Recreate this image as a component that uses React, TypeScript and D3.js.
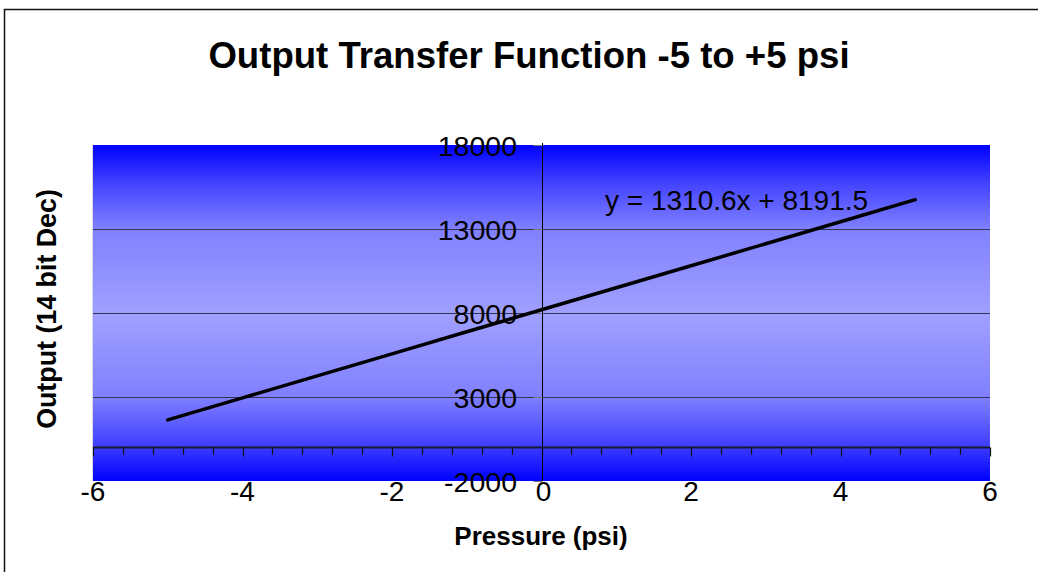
import React, { useEffect, useRef } from 'react';
import * as d3 from 'd3';

// pressure (psi) vs 14-bit output
const pressure = [-5, -4, -3, -2, -1, 0, 1, 2, 3, 4, 5];
const output = [1638, 2949, 4260, 5570, 6881, 8192, 9502, 10813, 12123, 13434, 14745];

const xTicks = [-6, -4, -2, 0, 2, 4, 6];
const yTicks = [-2000, 3000, 8000, 13000, 18000];

const title = 'Output Transfer Function -5 to +5 psi';
const xTitle = 'Pressure (psi)';
const yTitle = 'Output (14 bit Dec)';
const equation = 'y = 1310.6x + 8191.5';

const FONT = '"Liberation Sans", Arial, Helvetica, sans-serif';

export default function App() {
  const svgRef = useRef<SVGSVGElement>(null);

  useEffect(() => {
    if (!svgRef.current) return;
    const svg = d3.select(svgRef.current);
    svg.selectAll('*').remove();

    const plot = { left: 93, right: 990, top: 145, bottom: 481 };

    const x = d3.scaleLinear().domain([-6, 6]).range([plot.left, plot.right]);
    const y = d3.scaleLinear().domain([-2000, 18000]).range([plot.bottom, plot.top]);

    // gradient: blue at edges, light lavender in middle
    const defs = svg.append('defs');
    const grad = defs.append('linearGradient')
      .attr('id', 'plotBg')
      .attr('x1', 0).attr('y1', 0).attr('x2', 0).attr('y2', 1);
    [
      [0, '#0000ff'], [0.12, '#4646ff'], [0.25, '#8080ff'], [0.5, '#a0a0ff'],
      [0.75, '#8080ff'], [0.88, '#4646ff'], [1, '#0000ff']
    ].forEach(([o, c]) => grad.append('stop').attr('offset', o as number).attr('stop-color', c as string));

    // chart area border
    svg.append('rect')
      .attr('x', 4.5).attr('y', 9.5)
      .attr('width', 1100).attr('height', 700)
      .attr('fill', '#fff')
      .attr('stroke', '#111')
      .attr('stroke-width', 1.5);

    svg.append('rect')
      .attr('x', plot.left).attr('y', plot.top)
      .attr('width', plot.right - plot.left)
      .attr('height', plot.bottom - plot.top)
      .attr('fill', 'url(#plotBg)');

    svg.append('line')
      .attr('x1', plot.left - 0.5).attr('x2', plot.left - 0.5)
      .attr('y1', plot.top).attr('y2', plot.bottom)
      .attr('stroke', '#d8d8e8');

    // gridlines
    svg.append('g')
      .selectAll('line')
      .data(yTicks.filter(v => v > -2000 && v < 18000))
      .join('line')
      .attr('x1', plot.left).attr('x2', plot.right)
      .attr('y1', d => Math.round(y(d)) + 0.5)
      .attr('y2', d => Math.round(y(d)) + 0.5)
      .attr('stroke', '#333355')
      .attr('stroke-width', 1);

    // x axis at y = 0
    const y0 = Math.round(y(0)) + 0.5;
    const xAxis = svg.append('g');
    xAxis.append('line')
      .attr('x1', plot.left).attr('x2', plot.right)
      .attr('y1', y0).attr('y2', y0)
      .attr('stroke', '#1a1a2a')
      .attr('stroke-width', 1.8);
    const minor = d3.range(0, 31).map(i => -6 + i * 0.4);
    xAxis.selectAll('line.tick')
      .data(minor)
      .join('line')
      .attr('class', 'tick')
      .attr('x1', d => Math.round(x(d)) + 0.5)
      .attr('x2', d => Math.round(x(d)) + 0.5)
      .attr('y1', y0)
      .attr('y2', d => y0 + (Math.abs(d / 2 - Math.round(d / 2)) < 1e-6 ? 9 : 7))
      .attr('stroke', '#111')
      .attr('stroke-width', 1.2);
    xAxis.selectAll('text')
      .data(xTicks)
      .join('text')
      .attr('x', d => x(d) + (d === 0 ? 2 : 0))
      .attr('y', 501)
      .attr('text-anchor', 'middle')
      .attr('font-family', FONT)
      .attr('font-size', 28)
      .attr('fill', '#000')
      .text(d => d);

    // y axis at x = 0
    const x0 = Math.round(x(0)) + 0.5;
    const yAxis = svg.append('g');
    yAxis.append('line')
      .attr('x1', x0).attr('x2', x0)
      .attr('y1', plot.top - 2).attr('y2', plot.bottom)
      .attr('stroke', '#000')
      .attr('stroke-width', 1);
    yAxis.selectAll('line.tick')
      .data(yTicks)
      .join('line')
      .attr('class', 'tick')
      .attr('x1', x0 - 9).attr('x2', x0)
      .attr('y1', d => Math.round(y(d)) + 0.5)
      .attr('y2', d => Math.round(y(d)) + 0.5)
      .attr('stroke', '#777');
    yAxis.selectAll('text')
      .data(yTicks)
      .join('text')
      .attr('x', 517)
      .attr('y', d => y(d) + 1)
      .attr('dy', '0.36em')
      .attr('text-anchor', 'end')
      .attr('font-family', FONT)
      .attr('font-size', 28.5)
      .attr('fill', '#000')
      .text(d => d);

    // trend line
    const line = d3.line<number>()
      .x((_, i) => x(pressure[i]))
      .y(d => y(d));
    svg.append('path')
      .datum(output)
      .attr('d', line)
      .attr('fill', 'none')
      .attr('stroke', '#000')
      .attr('stroke-width', 3.5)
      .attr('stroke-linecap', 'round');

    svg.append('text')
      .attr('x', 605).attr('y', 210)
      .attr('font-family', FONT)
      .attr('font-size', 28)
      .attr('fill', '#000')
      .text(equation);

    // titles
    svg.append('text')
      .attr('x', 529).attr('y', 68)
      .attr('text-anchor', 'middle')
      .attr('font-family', FONT)
      .attr('font-weight', 'bold')
      .attr('font-size', 36.6)
      .attr('fill', '#000')
      .text(title);

    svg.append('text')
      .attr('x', 541).attr('y', 545)
      .attr('text-anchor', 'middle')
      .attr('font-family', FONT)
      .attr('font-weight', 'bold')
      .attr('font-size', 26)
      .attr('fill', '#000')
      .text(xTitle);

    svg.append('text')
      .attr('transform', 'translate(56,309) rotate(-90)')
      .attr('text-anchor', 'middle')
      .attr('font-family', FONT)
      .attr('font-weight', 'bold')
      .attr('font-size', 26.8)
      .attr('fill', '#000')
      .text(yTitle);
  }, []);

  return (
    <svg
      ref={svgRef}
      width={1038}
      height={572}
      style={{ position: 'absolute', left: 0, top: 0, background: '#fff' }}
    />
  );
}
